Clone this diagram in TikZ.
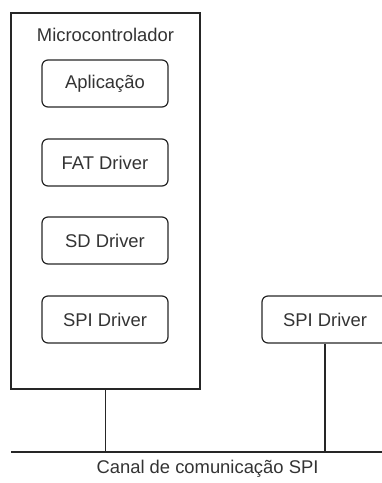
\documentclass[tikz,border=0pt]{standalone}
\usepackage{fontspec}
\setmainfont{Liberation Sans}
\begin{document}
\begin{tikzpicture}[x=1pt,y=-1pt,
  line width=1.2pt,
  txt/.style={text=black!80, font=\fontsize{18.4}{21}\selectfont},
  layer/.style={draw=black!85, rounded corners=6pt, minimum width=126pt, minimum height=47pt, inner sep=0pt, txt},
  wire/.style={draw=black!85}]
  \useasboundingbox (0,0) rectangle (382,483);
  % controller enclosure
  \node[draw=black!85, minimum width=189pt, minimum height=376pt, inner sep=0pt] (mcu) at (105.5,201) {};
  \node[txt] (mcutitle) at (105.5,35) {Microcontrolador};
  % software stack
  \node[layer] (app) at (105,83.5) {Aplicação};
  \node[layer] (fat) at (105,162.5) {FAT Driver};
  \node[layer] (sd)  at (105,240.5) {SD Driver};
  \node[layer] (spi) at (105,319.5) {SPI Driver};
  % peripheral side
  \node[layer] (spi2) at (325,319.5) {SPI Driver};
  % bus
  \coordinate (busL) at (11,452);
  \coordinate (busR) at (390,452);
  \draw[wire] (busL) -- (busR);
  \draw[wire] (mcu.south) -- (mcu.south |- busL);
  \draw[wire] (spi2.south) -- (spi2.south |- busL);
  \node[txt] (buslabel) at (207.5,469) {Canal de comunicação SPI};
\end{tikzpicture}
\end{document}
